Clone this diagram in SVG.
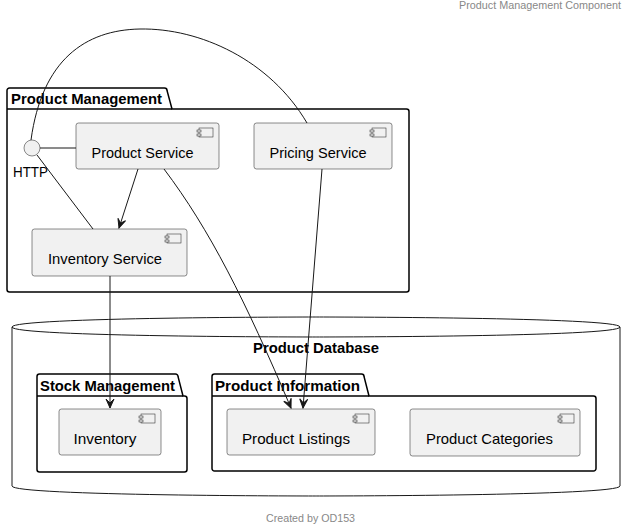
<svg xmlns="http://www.w3.org/2000/svg" xmlns:xlink="http://www.w3.org/1999/xlink" width="635" height="530" viewBox="0 0 635 530">
<style>
.comp{fill:#F1F1F1;stroke:#181818;stroke-width:0.5}
.pkg{fill:none;stroke:#000;stroke-width:1.5}
.db{fill:none;stroke:#181818;stroke-width:1}
.lbl{font-family:"Liberation Sans",Arial,sans-serif;font-size:15px;fill:#000}
.blbl{font-family:"Liberation Sans",Arial,sans-serif;font-size:15px;font-weight:bold;fill:#000}
.grey{font-family:"Liberation Sans",Arial,sans-serif;font-size:11px;fill:#888888}
.edge{fill:none;stroke:#181818;stroke-width:1}
</style>
<defs>
<g id="icon" class="comp">
<rect x="-20" y="5" width="14" height="9"/>
<rect x="-22" y="7" width="4" height="2"/>
<rect x="-22" y="11" width="4" height="2"/>
</g>
<marker id="arr" viewBox="-10 -5 11 10" refX="0" refY="0" markerWidth="11" markerHeight="10" markerUnits="userSpaceOnUse" orient="auto">
<path d="M0,0 L-9,-4 L-5,0 L-9,4 Z" fill="#181818" stroke="#181818" stroke-width="1"/>
</marker>
</defs>
<rect width="635" height="530" fill="#fff"/>
<text class="grey" x="621" y="9" text-anchor="end" textLength="162" lengthAdjust="spacingAndGlyphs">Product Management Component</text>

<g id="product-database">
<path class="db" d="M12,327 C12,317 316,317 316,317 C316,317 620,317 620,327 L620,486 C620,496 316,496 316,496 C316,496 12,496 12,486 L12,327 Z"/>
<path class="db" d="M12,327 C12,337 316,337 316,337 C316,337 620,337 620,327"/>
<text class="blbl" x="253" y="353" textLength="126" lengthAdjust="spacingAndGlyphs">Product Database</text>
</g>

<g id="pkg-product-management">
<path class="pkg" d="M9.5,88 L164.5,88 A2.5,2.5 0 0 1 167,90.5 L172,109 L406.5,109 A2.5,2.5 0 0 1 409,111.5 L409,289.5 A2.5,2.5 0 0 1 406.5,292 L9.5,292 A2.5,2.5 0 0 1 7,289.5 L7,90.5 A2.5,2.5 0 0 1 9.5,88 Z"/>
<path class="pkg" d="M7,109 L172,109"/>
<text class="blbl" x="11" y="104" textLength="151" lengthAdjust="spacingAndGlyphs">Product Management</text>
</g>

<g id="pkg-stock-management">
<path class="pkg" d="M39.5,374 L175.5,374 A2.5,2.5 0 0 1 178,376.5 L183,396 L184.5,396 A2.5,2.5 0 0 1 187,398.5 L187,469.5 A2.5,2.5 0 0 1 184.5,472 L39.5,472 A2.5,2.5 0 0 1 37,469.5 L37,376.5 A2.5,2.5 0 0 1 39.5,374 Z"/>
<path class="pkg" d="M37,396 L183,396"/>
<text class="blbl" x="40" y="391" textLength="135" lengthAdjust="spacingAndGlyphs">Stock Management</text>
</g>

<g id="pkg-product-information">
<path class="pkg" d="M214.5,374 L361.5,374 A2.5,2.5 0 0 1 364,376.5 L369,396 L593.5,396 A2.5,2.5 0 0 1 596,398.5 L596,468.5 A2.5,2.5 0 0 1 593.5,471 L214.5,471 A2.5,2.5 0 0 1 212,468.5 L212,376.5 A2.5,2.5 0 0 1 214.5,374 Z"/>
<path class="pkg" d="M212,396 L369,396"/>
<text class="blbl" x="215" y="391" textLength="145" lengthAdjust="spacingAndGlyphs">Product Information</text>
</g>

<g id="http">
<circle class="comp" cx="32" cy="148" r="8"/>
<text class="lbl" x="13" y="177" textLength="35" lengthAdjust="spacingAndGlyphs">HTTP</text>
</g>

<g id="product-service">
<rect class="comp" x="76" y="123" width="143" height="46" rx="2.5"/>
<use xlink:href="#icon" x="219" y="123"/>
<text class="lbl" x="142.5" y="158" text-anchor="middle" textLength="102" lengthAdjust="spacingAndGlyphs">Product Service</text>
</g>

<g id="pricing-service">
<rect class="comp" x="254" y="123" width="138" height="46" rx="2.5"/>
<use xlink:href="#icon" x="392" y="123"/>
<text class="lbl" x="318" y="158" text-anchor="middle" textLength="97" lengthAdjust="spacingAndGlyphs">Pricing Service</text>
</g>

<g id="inventory-service">
<rect class="comp" x="32" y="229" width="155" height="47" rx="2.5"/>
<use xlink:href="#icon" x="187" y="229"/>
<text class="lbl" x="105" y="264" text-anchor="middle" textLength="114" lengthAdjust="spacingAndGlyphs">Inventory Service</text>
</g>

<g id="inventory">
<rect class="comp" x="59" y="409" width="102" height="46" rx="2.5"/>
<use xlink:href="#icon" x="161" y="409"/>
<text class="lbl" x="105" y="444" text-anchor="middle" textLength="63" lengthAdjust="spacingAndGlyphs">Inventory</text>
</g>

<g id="product-listings">
<rect class="comp" x="227" y="409" width="148" height="46" rx="2.5"/>
<use xlink:href="#icon" x="375" y="409"/>
<text class="lbl" x="296" y="444" text-anchor="middle" textLength="108" lengthAdjust="spacingAndGlyphs">Product Listings</text>
</g>

<g id="product-categories">
<rect class="comp" x="410" y="409" width="170" height="47" rx="2.5"/>
<use xlink:href="#icon" x="580" y="409"/>
<text class="lbl" x="489.5" y="444" text-anchor="middle" textLength="127" lengthAdjust="spacingAndGlyphs">Product Categories</text>
</g>

<g id="connectors">
<path class="edge" d="M40,148 L76,148"/>
<path class="edge" d="M37,155 L93,229"/>
<path class="edge" d="M31,140 C42,60 85,30 140,29 C200,28 270,60 307,123"/>
<path class="edge" d="M138,169 L119,228" marker-end="url(#arr)"/>
<path class="edge" d="M164,169 C210,230 245,300 291,408" marker-end="url(#arr)"/>
<path class="edge" d="M322,169 L303,408" marker-end="url(#arr)"/>
<path class="edge" d="M110,276 L110,408" marker-end="url(#arr)"/>
</g>

<text class="grey" x="310.5" y="522" text-anchor="middle" textLength="89" lengthAdjust="spacingAndGlyphs">Created by OD153</text>
</svg>
